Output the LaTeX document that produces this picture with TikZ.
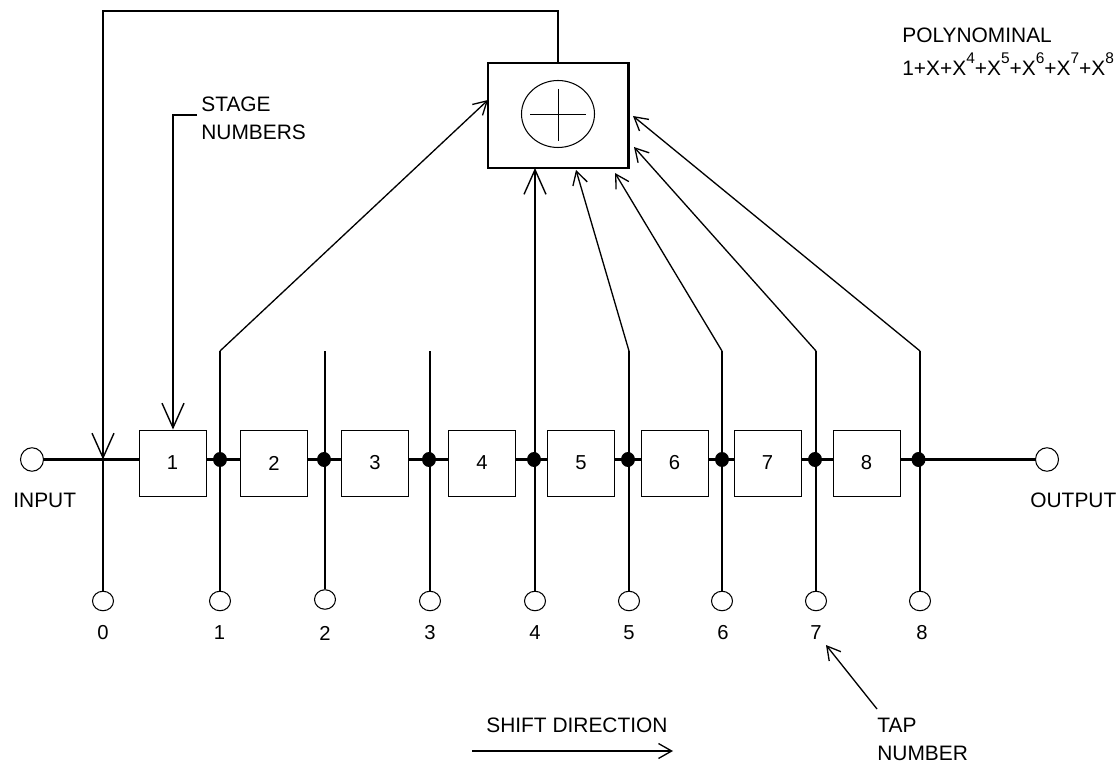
\documentclass[tikz,border=0pt]{standalone}
\usepackage{fontspec}
\setmainfont{Liberation Sans}
\usetikzlibrary{calc,arrows.meta,shapes.geometric}
\tikzset{
    wire/.style={line width=1.2pt},
    bigbarb/.style={wire, -{Straight Barb[length=14pt, width=12.5pt, line width=0.8pt]}},
    smallbarb/.style={line width=0.75pt, -{Straight Barb[length=7.5pt, width=8.5pt, line width=0.75pt]}},
    stagebox/.style={draw, line width=0.55pt, fill=white, minimum width=1.34cm, minimum height=1.32cm, inner sep=0, font=\fontsize{11.5}{13}\selectfont},
    tapdot/.style={ellipse, fill=black, minimum width=0.28cm, minimum height=0.3cm, inner sep=0},
    tapend/.style={ellipse, draw, fill=white, line width=0.6pt, minimum width=0.42cm, minimum height=0.39cm, inner sep=0},
    portend/.style={tapend, minimum width=0.46cm, minimum height=0.47cm},
    lbl/.style={anchor=base west, inner sep=0, font=\fontsize{11.9}{14}\selectfont},
    numlbl/.style={inner sep=0, font=\fontsize{11.5}{13}\selectfont}
}
\newcommand{\supnum}[1]{\raisebox{0.6em}{\fontsize{8.8}{10}\selectfont #1}}
\begin{document}
\begin{tikzpicture}[x=0.02cm, y=-0.02cm]
    \useasboundingbox (0,0) rectangle (1119,763);

    % shift register line
    \node[portend] (input) at (32,459.5) {};
    \node[portend] (output) at (1047,459.5) {};
    \draw[wire] (input) -- (output);
    \foreach \n/\x in {1/172.5,2/274,3/375,4/482,5/581,6/674.5,7/767.5,8/866.5}
        \node[stagebox] (box\n) at (\x,463) {\n};

    % tap lines with circles and numbers
    \foreach \n/\x/\y in {1/220/601,2/325/599.5,3/430/601,4/535/601,5/629/601,6/722/601,7/816/601,8/920/601} {
        \node[tapend] (tap\n) at (\x,\y) {};
        \coordinate (top\n) at (\x,351);
        \draw[wire] (tap\n) -- (top\n);
    }
    \foreach \n/\x in {1/220,2/324,3/429,4/534,5/628,6/722,7/815,8/918.5}
        \node[tapdot] (dot\n) at (\x,459.5) {};
    \foreach \n/\x in {0/103,1/219.5,2/325,3/430,4/535,5/629,6/723,7/816,8/922}
        \node[numlbl] (num\n) at (\x,633) {\n};

    % adder
    \node[draw, line width=1.15pt, minimum width=2.82cm, minimum height=2.1cm, inner sep=0] (adder) at (558,115.5) {};
    \node[ellipse, draw, line width=0.6pt, minimum width=1.46cm, minimum height=1.34cm, inner sep=0] (xor) at (558,114) {};
    \draw[line width=0.5pt] ($(xor)+(-28,0)$) -- ($(xor)+(28,0)$);
    \draw[line width=0.5pt] ($(xor)+(0,-25)$) -- ($(xor)+(0,27)$);

    % feedback
    \node[tapend] (tap0) at (103,601) {};
    \coordinate (fbright) at (558,11);
    \coordinate (fbleft) at (103,11);
    \coordinate (fbjoin) at (103,459.5);
    \draw[wire] (adder.north) -- (fbright) -- (fbleft) -- (fbjoin);
    \draw[bigbarb] (fbleft) -- (fbjoin);
    \draw[wire] (fbjoin) -- (tap0);

    % taps into the adder
    \draw[smallbarb] (top1) -- (488,100);
    \draw[bigbarb] (tap4) -- (535,168);
    \draw[smallbarb] (top5) -- (576,170);
    \draw[smallbarb] (top6) -- (615,173);
    \draw[smallbarb] (top7) -- (634,147);
    \draw[smallbarb] (top8) -- (633,116);

    % labels
    \node[lbl] (inputlbl) at (13,507) {INPUT};
    \node[lbl] (outputlbl) at (1030,507) {OUTPUT};
    \node[lbl] (stagelbl) at (201,112) {STAGE};
    \node[lbl] (numberslbl) at (201,140) {NUMBERS};
    \coordinate (stagefree) at (197,115);
    \draw[bigbarb] (stagefree) -- (173,115) -- (box1.north -| 173,115);
    \node[lbl] (polylbl) at (902,43) {POLYNOMINAL};
    \node[lbl] (polyform) at (902,76) {1+X+X\supnum{4}+X\supnum{5}+X\supnum{6}+X\supnum{7}+X\supnum{8}};
    \node[lbl] (shiftlbl) at (486,732) {SHIFT DIRECTION};
    \coordinate (shiftfree) at (472,751);
    \coordinate (shifttip) at (673,751);
    \draw[smallbarb] (shiftfree) -- (shifttip);
    \node[lbl] (taplbl) at (877,732) {TAP};
    \node[lbl] (numberlbl) at (877,760) {NUMBER};
    \coordinate (tapfree) at (877,709);
    \coordinate (taptip) at (826,645);
    \draw[smallbarb] (tapfree) -- (taptip);
\end{tikzpicture}
\end{document}
